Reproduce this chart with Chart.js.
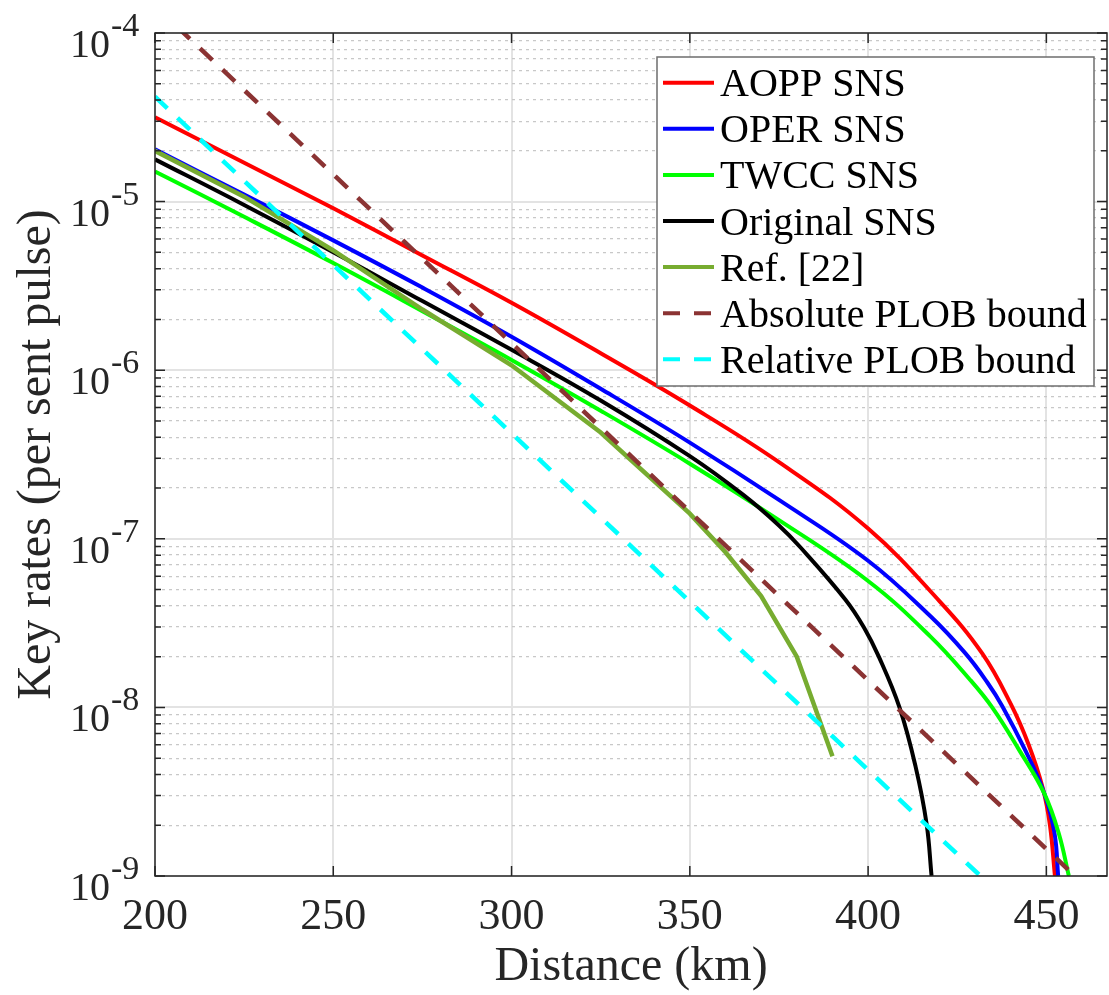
<!DOCTYPE html>
<html>
<head>
<meta charset="utf-8">
<script src="https://cdn.jsdelivr.net/npm/chart.js@4.4.1/dist/chart.umd.min.js"></script>
<style>
  html, body { margin: 0; padding: 0; background: #fff; }
  canvas { display: block; }
</style>
</head>
<body>
<canvas id="keyChart" width="1109" height="995"></canvas>
<script>
const aoppKm   = [200, 225, 250, 275, 300, 325, 350, 375, 400, 420, 432, 440, 445, 449, 451, 452.4];
const aoppRate = [3.16e-5, 1.70e-5, 9.12e-6, 4.79e-6, 2.51e-6, 1.26e-6, 6.17e-7, 2.85e-7, 1.15e-7, 4.27e-8, 2.09e-8, 1.05e-8, 6.03e-9, 3.31e-9, 2.0e-9, 1.0e-9];

const operKm   = [200, 225, 250, 275, 300, 325, 350, 375, 400, 417.5, 427.3, 433.4, 437.6, 444.2, 449.4, 452.3, 453.3];
const operRate = [2.04e-5, 1.10e-5, 5.89e-6, 3.09e-6, 1.58e-6, 7.76e-7, 3.72e-7, 1.70e-7, 7.41e-8, 3.47e-8, 2.09e-8, 1.41e-8, 1.02e-8, 5.50e-9, 3.09e-9, 1.78e-9, 1.0e-9];

const twccKm   = [200, 225, 250, 275, 300, 325, 350, 375, 400, 417.5, 428.7, 434.8, 442.3, 449.4, 453.5, 456.3];
const twccRate = [1.51e-5, 8.13e-6, 4.32e-6, 2.24e-6, 1.15e-6, 5.75e-7, 2.79e-7, 1.29e-7, 5.62e-8, 2.63e-8, 1.45e-8, 1.0e-8, 5.62e-9, 3.09e-9, 1.78e-9, 1.0e-9];

const origKm   = [200, 225, 250, 275, 300, 325, 350, 365, 375, 381, 393.6, 398.8, 403, 408.8, 413.3, 416.4, 417.8];
const origRate = [1.78e-5, 9.55e-6, 5.01e-6, 2.57e-6, 1.32e-6, 6.61e-7, 3.09e-7, 1.82e-7, 1.20e-7, 8.91e-8, 4.37e-8, 2.99e-8, 2.0e-8, 1.0e-8, 4.47e-9, 2.04e-9, 1.0e-9];

const refKm   = [200, 225, 250, 275, 300, 325, 350, 360, 370, 380, 390];
const refRate = [2.0e-5, 1.07e-5, 5.13e-6, 2.29e-6, 1.07e-6, 4.27e-7, 1.41e-7, 8.32e-8, 4.57e-8, 2.0e-8, 5.13e-9];

const absPlobKm   = [200, 458];
const absPlobRate = [1.45e-4, 1.0e-9];

const relPlobKm   = [200, 431.5];
const relPlobRate = [4.19e-5, 1.0e-9];

const xTickValues = [200, 250, 300, 350, 400, 450];
const xTickLabels = ['200', '250', '300', '350', '400', '450'];
const yDecades = [1e-9, 1e-8, 1e-7, 1e-6, 1e-5, 1e-4];
const yExponents = ['-9', '-8', '-7', '-6', '-5', '-4'];

const serif = "'Liberation Serif', 'Times New Roman', serif";
const axisColor = '#262626';

const toPoints = (xs, ys) => xs.map((x, i) => ({ x: x, y: ys[i] }));
const isDecade = v => Math.abs(Math.log10(v) - Math.round(Math.log10(v))) < 1e-6;

function series(label, xs, ys, color, extra) {
  return Object.assign({
    label: label,
    data: toPoints(xs, ys),
    borderColor: color,
    backgroundColor: color,
    borderWidth: 4,
    pointRadius: 0,
    fill: false,
    tension: 0.4
  }, extra || {});
}

const datasets = [
  series('AOPP SNS', aoppKm, aoppRate, '#ff0000'),
  series('OPER SNS', operKm, operRate, '#0000ff'),
  series('TWCC SNS', twccKm, twccRate, '#00ff00'),
  series('Original SNS', origKm, origRate, '#000000'),
  series('Ref. [22]', refKm, refRate, '#77ac30', { tension: 0, borderWidth: 4.5 }),
  series('Absolute PLOB bound', absPlobKm, absPlobRate, '#8b3333', { tension: 0, borderDash: [17, 14], borderWidth: 4.5 }),
  series('Relative PLOB bound', relPlobKm, relPlobRate, '#00ffff', { tension: 0, borderDash: [17, 14], borderWidth: 4.5 })
];
datasets.forEach((d, i) => { d.order = datasets.length - i; });

const frame = {
  id: 'frame',
  afterDraw(chart) {
    const { ctx, chartArea: a, scales: { x, y } } = chart;
    ctx.save();

    // inner tick marks and axes box
    ctx.strokeStyle = axisColor;
    ctx.lineWidth = 1.5;
    ctx.setLineDash([]);
    ctx.beginPath();
    x.ticks.forEach(t => {
      const px = x.getPixelForValue(t.value);
      ctx.moveTo(px, a.bottom); ctx.lineTo(px, a.bottom - 10);
      ctx.moveTo(px, a.top); ctx.lineTo(px, a.top + 10);
    });
    y.ticks.forEach(t => {
      const py = y.getPixelForValue(t.value);
      const len = isDecade(t.value) ? 10 : 6;
      ctx.moveTo(a.left, py); ctx.lineTo(a.left + len, py);
      ctx.moveTo(a.right, py); ctx.lineTo(a.right - len, py);
    });
    ctx.stroke();
    ctx.strokeRect(a.left, a.top, a.right - a.left, a.bottom - a.top);

    // y tick labels 10^n
    ctx.fillStyle = axisColor;
    ctx.textBaseline = 'alphabetic';
    yDecades.forEach((v, i) => {
      const py = y.getPixelForValue(v);
      ctx.font = '40px ' + serif;
      ctx.textAlign = 'right';
      ctx.fillText('10', 110, py + 24);
      ctx.font = '34px ' + serif;
      ctx.textAlign = 'left';
      ctx.fillText(yExponents[i], 111, py + 3);
    });

    // legend
    const box = { left: 657, top: 57, right: 1094, bottom: 386 };
    ctx.fillStyle = '#ffffff';
    ctx.fillRect(box.left, box.top, box.right - box.left, box.bottom - box.top);
    ctx.strokeStyle = '#6e6e6e';
    ctx.lineWidth = 1.5;
    ctx.strokeRect(box.left, box.top, box.right - box.left, box.bottom - box.top);
    ctx.font = '40px ' + serif;
    ctx.textAlign = 'left';
    chart.data.datasets.forEach((d, i) => {
      const rowY = 82.7 + i * 46.1;
      ctx.strokeStyle = d.borderColor;
      ctx.lineWidth = 4;
      ctx.setLineDash(d.borderDash || []);
      ctx.beginPath();
      ctx.moveTo(663, rowY);
      ctx.lineTo(714, rowY);
      ctx.stroke();
      ctx.setLineDash([]);
      ctx.fillStyle = '#000000';
      ctx.fillText(d.label, 720, rowY + 13.5);
    });

    ctx.restore();
  }
};

new Chart(document.getElementById('keyChart'), {
  type: 'line',
  data: { datasets: datasets },
  options: {
    responsive: false,
    animation: false,
    layout: { padding: { left: 0, top: 33, right: 2, bottom: 0 } },
    plugins: { legend: { display: false }, tooltip: { enabled: false } },
    scales: {
      x: {
        type: 'linear',
        min: 200,
        max: 467,
        afterBuildTicks: s => { s.ticks = xTickValues.map(v => ({ value: v })); },
        afterFit: s => { s.height = 119; },
        ticks: {
          color: axisColor,
          font: { family: serif, size: 44 },
          padding: 15,
          maxRotation: 0,
          autoSkip: false,
          callback: (v, i) => xTickLabels[i]
        },
        grid: { color: '#e3e3e3', lineWidth: 2, drawTicks: false },
        border: { display: false },
        title: {
          display: true,
          text: 'Distance (km)',
          color: axisColor,
          font: { family: serif, size: 48, lineHeight: 1 },
          padding: { top: 0, bottom: 4 }
        }
      },
      y: {
        type: 'logarithmic',
        min: 1e-9,
        max: 1e-4,
        afterBuildTicks: s => {
          const ticks = [];
          yDecades.slice(0, -1).forEach(d => {
            for (let m = 1; m <= 9; m++) ticks.push({ value: m * d });
          });
          ticks.push({ value: yDecades[yDecades.length - 1] });
          s.ticks = ticks;
        },
        afterFit: s => { s.width = 155; },
        ticks: { display: false },
        grid: {
          drawTicks: false,
          color: c => (c.tick && isDecade(c.tick.value)) ? '#e3e3e3' : '#c8c8c8',
          lineWidth: c => (c.tick && isDecade(c.tick.value)) ? 2 : 1.3
        },
        border: {
          display: false,
          dash: c => (c.tick && !isDecade(c.tick.value)) ? [3, 4] : []
        },
        title: {
          display: true,
          text: 'Key rates (per sent pulse)',
          color: axisColor,
          font: { family: serif, size: 48, lineHeight: 1.2 },
          padding: { top: 9, bottom: 0 }
        }
      }
    }
  },
  plugins: [frame]
});
</script>
</body>
</html>
